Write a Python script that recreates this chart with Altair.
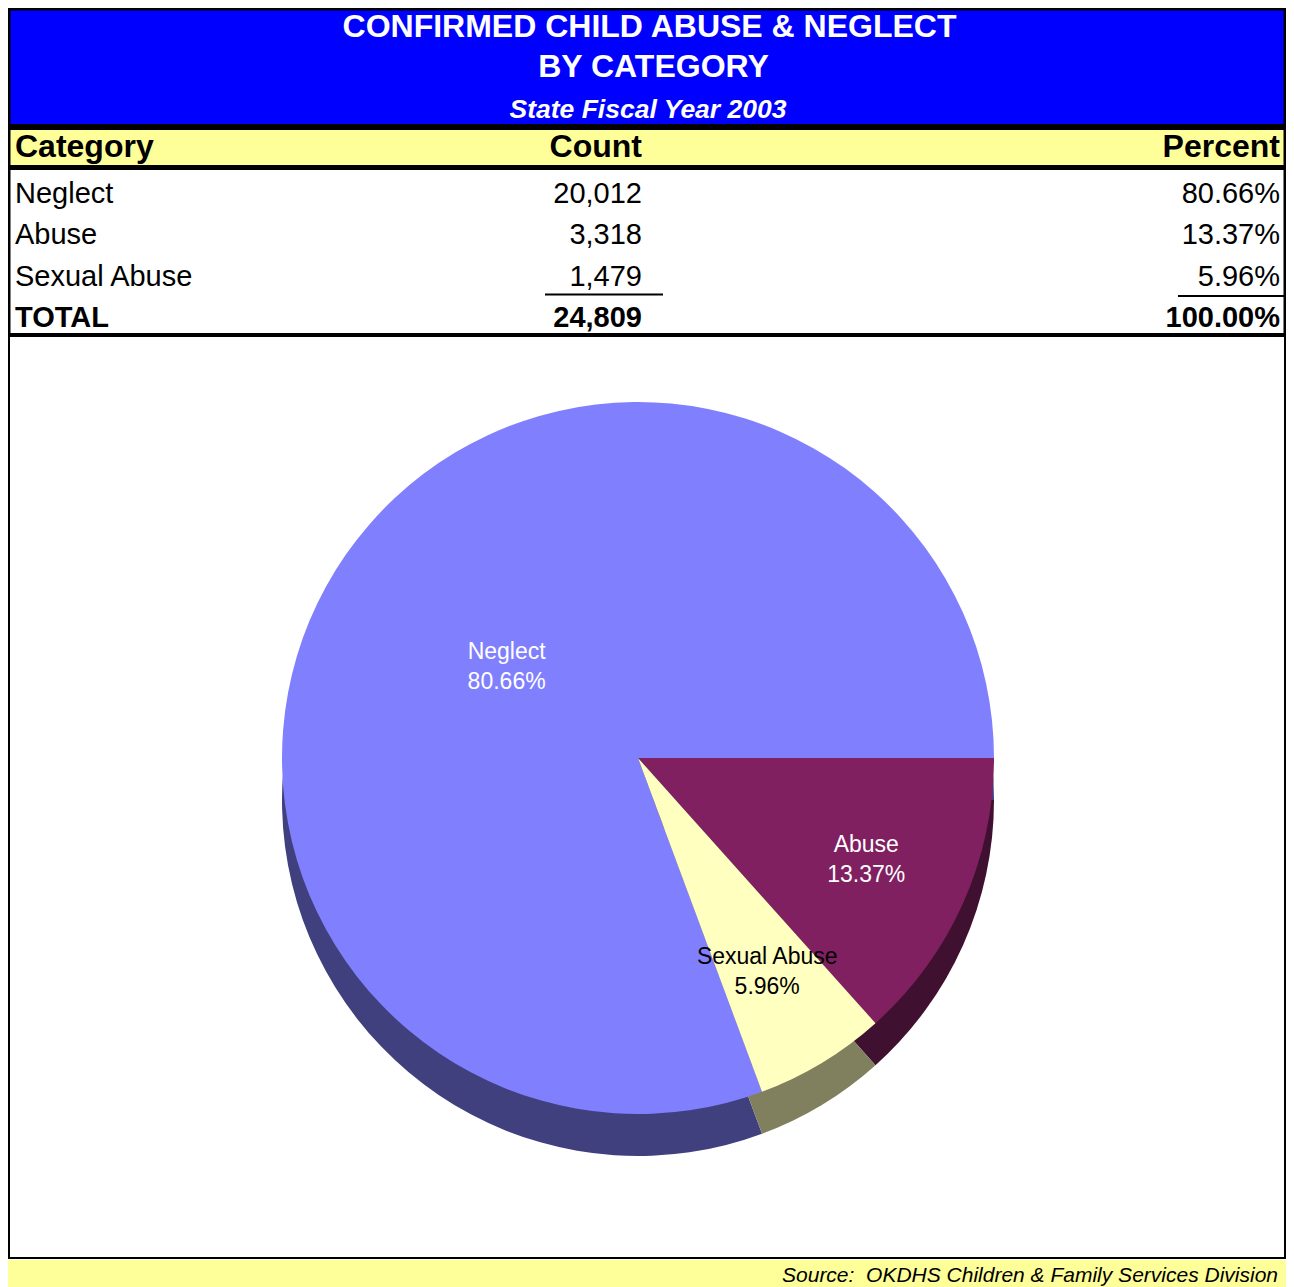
import altair as alt
import numpy as np
import pandas as pd

# ---- data ----
categories = ["Neglect", "Abuse", "Sexual Abuse"]
counts = [20012, 3318, 1479]
percents = [80.66, 13.37, 5.96]
total_label = "TOTAL"
total_count = 24809
total_percent = 100.00

title_line1 = "CONFIRMED CHILD ABUSE & NEGLECT"
title_line2 = "BY CATEGORY"
title_line3 = "State Fiscal Year 2003"
col_headers = ["Category", "Count", "Percent"]
source_text = "Source:\u00a0 OKDHS Children & Family Services Division"

# ---- styles ----
top_colors = ["#8080FF", "#802060", "#FFFFC0"]
side_colors = ["#40407F", "#401030", "#80805F"]
BLUE = "#0000FF"
YELLOW = "#FFFF99"
FONT = "Liberation Sans"
W, H = 1278, 1279
CX, CY, R, DEPTH = 630, 750, 356, 42

one = pd.DataFrame({"k": [0]})


def box(x1, x2, y1, y2, color):
    return alt.Chart(one).mark_rect(color=color).encode(
        x=alt.value(x1), x2=alt.value(x2), y=alt.value(y1), y2=alt.value(y2)
    )


def label(text, x, y, size, weight="normal", style="normal", align="center", color="black"):
    return alt.Chart(one).mark_text(
        text=text, fontSize=size, fontWeight=weight, fontStyle=style, align=align,
        baseline="alphabetic", font=FONT, color=color
    ).encode(x=alt.value(x), y=alt.value(y))


# ---- frame ----
frame = [
    box(0, 1278, 0, 329, "black"),
    box(2.5, 1275.5, 2.5, 116, BLUE),
    box(2.5, 1275.5, 122, 157, YELLOW),
    box(2.5, 1275.5, 162, 325, "white"),
    box(0, 2, 329, 1251, "black"),
    box(1276, 1278, 329, 1251, "black"),
    box(0, 1278, 1249, 1251, "black"),
    box(0, W, 1252, H, YELLOW),
]

titles = [
    label(title_line1, 641.5, 29, 32, weight="bold", color="white"),
    label(title_line2, 645.5, 69, 32, weight="bold", color="white"),
    label(title_line3, 640, 110, 26.5, weight="bold", style="italic", color="white"),
    label(col_headers[0], 7, 149, 32, weight="bold", align="left"),
    label(col_headers[1], 634, 149, 32, weight="bold", align="right"),
    label(col_headers[2], 1272, 149, 32, weight="bold", align="right"),
    label(source_text, 1270, 1274, 21, style="italic", align="right"),
]

# ---- table ----
table_df = pd.DataFrame({
    "name": categories + [total_label],
    "count": counts + [total_count],
    "pct": percents + [total_percent],
    "row": list(range(len(categories) + 1)),
    "is_total": [False] * len(categories) + [True],
})
yrow = alt.Y("row:Q", axis=None, scale=alt.Scale(domain=[0, 3], range=[194.7, 319]))
tbase = alt.Chart(table_df).transform_calculate(
    cnt="format(datum.count, ',')",
    pc="format(datum.pct, '.2f') + '%'",
)
table_layers = []
for total_flag, weight in [(False, "normal"), (True, "bold")]:
    b = tbase.transform_filter(f"datum.is_total == {str(total_flag).lower()}")
    table_layers += [
        b.mark_text(align="left", baseline="alphabetic", fontSize=29, fontWeight=weight, font=FONT)
        .encode(x=alt.value(7), y=yrow, text="name:N"),
        b.mark_text(align="right", baseline="alphabetic", fontSize=29, fontWeight=weight, font=FONT)
        .encode(x=alt.value(634), y=yrow, text="cnt:N"),
        b.mark_text(align="right", baseline="alphabetic", fontSize=29, fontWeight=weight, font=FONT)
        .encode(x=alt.value(1272), y=yrow, text="pc:N"),
    ]

underlines = [
    box(537, 655, 285.5, 287.5, "black"),
    box(1170, 1276, 287, 289, "black"),
]

# ---- pie ----
pie_df = pd.DataFrame({
    "category": categories,
    "count": counts,
    "pct": percents,
    "idx": list(range(len(categories))),
})
share_first = counts[0] / sum(counts)
start = np.pi / 2 + 2 * np.pi * (1 - share_first)
theta_scale = alt.Scale(range=[start, start + 2 * np.pi])
theta = alt.Theta("count:Q", stack=True, scale=theta_scale)
order = alt.Order("idx:Q")

pie_side = alt.Chart(pie_df).mark_arc(radius=R).encode(
    theta=theta, order=order,
    fill=alt.Fill("category:N", scale=alt.Scale(domain=categories, range=side_colors), legend=None),
    x=alt.value(CX), y=alt.value(CY + DEPTH),
)
pie_top = alt.Chart(pie_df).mark_arc(radius=R).encode(
    theta=theta, order=order,
    color=alt.Color("category:N", scale=alt.Scale(domain=categories, range=top_colors), legend=None),
    x=alt.value(CX), y=alt.value(CY),
)
pie_labels = alt.Chart(pie_df).transform_window(
    cum="sum(count)", sort=[alt.SortField("idx", order="ascending")], frame=[None, 0]
).transform_calculate(
    mid="datum.cum - datum.count / 2",
    lbl="datum.category + '\\n' + format(datum.pct, '.2f') + '%'",
    lr="datum.pct > 50 ? 160 : 250",
).mark_text(fontSize=23, lineHeight=30, lineBreak="\n", font=FONT, baseline="middle", dy=-15).encode(
    theta=alt.Theta("mid:Q", stack=None, scale=theta_scale),
    radius=alt.Radius("lr:Q", scale=None),
    text="lbl:N",
    color=alt.condition("datum.category == 'Sexual Abuse'", alt.value("black"), alt.value("white")),
    x=alt.value(CX), y=alt.value(CY),
)

chart = alt.layer(
    *frame, *titles, *table_layers, *underlines, pie_side, pie_top, pie_labels
).properties(
    width=W, height=H, padding=0, autosize=alt.AutoSizeParams(type="none"), background="white"
).configure_view(stroke=None)

chart.save("out.html", embed_options={"renderer": "svg", "actions": False})
